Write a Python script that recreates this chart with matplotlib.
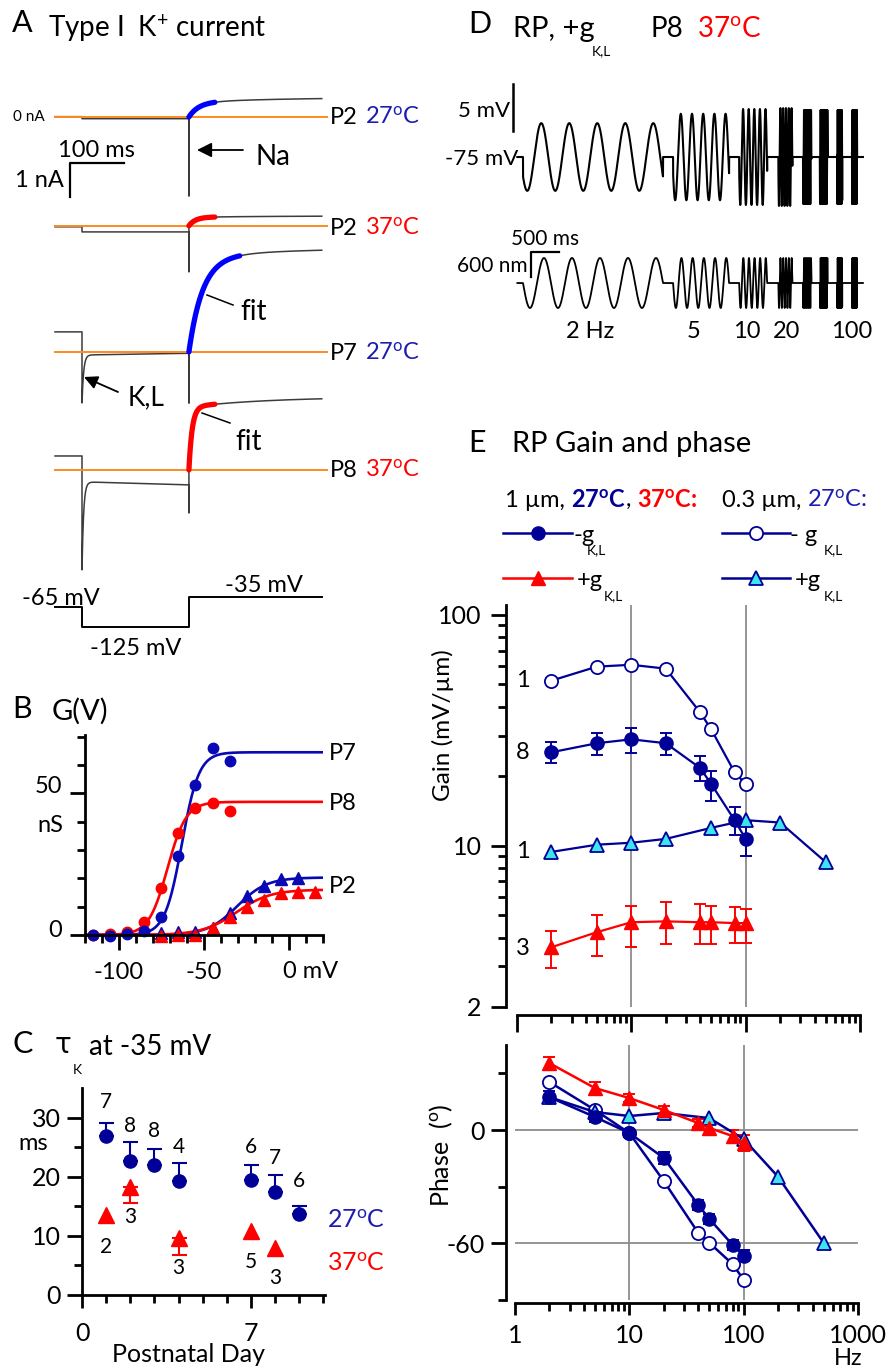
import numpy as np
import matplotlib.pyplot as plt
from matplotlib.ticker import FixedLocator, NullFormatter, FixedFormatter

plt.rcParams['font.family'] = ['Lato', 'DejaVu Sans']
plt.rcParams['mathtext.fontset'] = 'custom'
plt.rcParams['mathtext.rm'] = 'Lato'
plt.rcParams['mathtext.it'] = 'Lato:italic'
plt.rcParams['mathtext.bf'] = 'Lato:bold'

W, H = 888, 1371
NAVY = '#000096'
BLUE = '#0000ff'
BLUE_TXT = '#1c1cb0'
RED = '#ff0000'
CYAN = '#3ee3f0'
ORANGE = '#ff8a1f'
GRAY = '#3c3c3c'
GRID = '#8c8c8c'
DEG = r'$^{\mathrm{o}}$'
MU = '\u00b5'

# ---------------- A: Type I K+ currents (nA) ----------------
t_step_on, t_step_off, t_end = 50.0, 248.0, 494.0     # ms
v_cmd = [-65, -125, -35]                               # mV
a_ages = ['P2', 'P2', 'P7', 'P8']
a_temps = ['27', '37', '27', '37']
a_offset = [0.0, -3.2, -6.91, -10.38]                  # trace stacking (nA)
i_hold = [0.01, -0.03, 0.59, 0.41]
i_kl_peak = [-0.05, -0.18, -1.50, -2.94]
i_kl_start = [-0.05, -0.18, -0.09, -0.35]
i_kl_end = [-0.05, -0.18, -0.04, -0.44]
tau_kl = 3.0
i_na_peak = [-2.32, -1.35, -1.50, -1.26]
i_k_fast = [0.42, 0.25, 2.75, 1.85]
tau_k_fast = [18.0, 12.0, 25.0, 6.0]
i_k_slow = [0.15, 0.04, 0.30, 0.30]
tau_k_slow = 150.0
fit_end = [48.0, 48.0, 94.0, 48.0]

# ---------------- B: G(V) ----------------
v_b = [-115, -105, -95, -85, -75, -65, -55, -45, -35]
g_p7 = [0.0, -0.3, 0.5, 1.4, 6.5, 27.9, 52.9, 66.1, 61.5]
g_p8 = [0.0, 0.3, 1.0, 4.7, 16.5, 35.9, 45.0, 46.5, 43.8]
v_p2_27 = [-75, -65, -55, -45, -35, -25, -15, -5, 5]
g_p2_27 = [0.6, 1.0, 1.1, 2.5, 7.6, 13.9, 17.4, 19.8, 20.0]
v_p2_37 = [-75, -65, -55, -45, -35, -25, -15, -5, 5, 15]
g_p2_37 = [-0.2, 0.0, 0.1, 2.4, 6.2, 10.0, 12.4, 14.7, 15.3, 15.3]
# Boltzmann fits: Gmax (nS), V1/2 (mV), slope (mV)
fit_p7 = (64.5, -63.0, 5.0)
fit_p8 = (47.0, -71.5, 5.5)
fit_p2_27 = (20.3, -30.5, 8.7)
fit_p2_37 = (16.0, -31.0, 10.0)

# ---------------- C: tau_K at -35 mV ----------------
days_27 = [1, 2, 3, 4, 7, 8, 9]
tau_27 = [26.8, 22.7, 22.0, 19.3, 19.5, 17.5, 13.7]
tau_27_err = [2.3, 3.2, 2.7, 3.1, 2.5, 2.8, 1.4]
n_27 = ['7', '8', '8', '4', '6', '7', '6']
n_27_y = [32.7, 28.5, 27.8, 25.1, 25.1, 23.1, 19.2]
days_37 = [1, 2, 4, 7, 8]
tau_37 = [13.5, 18.3, 9.7, 10.9, 8.0]
tau_37_err = [0.0, 2.7, 2.9, 0.0, 0.0]
n_37 = ['2', '3', '3', '5', '3']
n_37_y = [8.1, 13.2, 4.6, 5.6, 2.9]

# ---------------- D: receptor potential to sinusoidal bundle motion ----------------
d_freqs = [2, 5, 10, 20, 40, 50, 80, 100]                  # Hz
d_start = [0.0, 2.68, 3.86, 4.56, 5.0, 5.30, 5.61, 5.875]  # s
d_dur = [2.5, 1.0, 0.5, 0.25, 0.15, 0.14, 0.09, 0.09]      # s
d_stim_amp = 600.0                                         # nm
d_resp_amp = [3.6, 4.6, 5.1, 5.2, 5.0, 5.0, 5.0, 5.0]      # mV
d_resp_phase = [35, 22, 17, 11, 4, 1, -3, -7]              # deg
v_rest = -75.0

# ---------------- E: gain and phase ----------------
f_1um = [2, 5, 10, 20, 40, 50, 80, 100]
gain_m_1um = [25.4, 27.8, 28.9, 27.8, 21.7, 18.5, 12.9, 10.7]
gain_m_1um_lo = [22.8, 24.7, 25.2, 24.7, 19.0, 15.6, 11.1, 9.0]
gain_m_1um_hi = [28.0, 30.7, 32.2, 30.7, 24.5, 21.0, 14.7, 12.7]
gain_p_1um = [3.63, 4.22, 4.66, 4.70, 4.66, 4.66, 4.62, 4.62]
gain_p_1um_lo = [2.95, 3.33, 3.63, 3.75, 3.75, 3.75, 3.80, 3.80]
gain_p_1um_hi = [4.26, 5.0, 5.5, 5.7, 5.6, 5.5, 5.4, 5.3]
f_03um_m = [2, 5, 10, 20, 40, 50, 80, 100]
gain_m_03um = [51.9, 59.7, 60.8, 58.5, 37.8, 31.9, 20.8, 18.5]
f_03um_p = [2, 5, 10, 20, 50, 100, 200, 500]
gain_p_03um = [9.4, 10.1, 10.3, 10.7, 11.95, 12.9, 12.6, 8.5]
gain_n = ['1', '8', '1', '3']
gain_n_y = [52, 25.4, 9.4, 3.6]

phase_m_1um = [17.4, 6.9, -1.6, -14.8, -39.6, -47.0, -60.8, -66.6]
phase_m_1um_err = [3.0, 2.5, 2.0, 3.0, 2.5, 2.5, 2.5, 3.0]
phase_p_1um = [35.4, 22.2, 16.9, 10.6, 3.7, 1.1, -3.2, -6.9]
phase_p_1um_err = [3.5, 3.0, 2.0, 2.0, 2.0, 3.0, 3.0, 4.0]
phase_m_03um = [25.4, 10.6, -1.6, -27.0, -54.4, -59.7, -71.0, -79.3]
phase_p_03um = [17.4, 9.5, 7.4, 9.0, 6.3, -4.8, -24.8, -59.7]


fig = plt.figure(figsize=(W / 100, H / 100), dpi=100)


def box(x0, y0, x1, y1):
    # axes from a pixel box (y from top)
    ax = fig.add_axes([x0 / W, 1 - y1 / H, (x1 - x0) / W, (y1 - y0) / H])
    ax.patch.set_alpha(0)
    return ax


def spines(ax, lw=2.0, size=16):
    for side in ['top', 'right']:
        ax.spines[side].set_visible(False)
    for side in ['left', 'bottom']:
        ax.spines[side].set_linewidth(lw)
    ax.tick_params(which='both', direction='out', width=lw, labelsize=size)
    ax.tick_params(which='major', length=10.5)
    ax.tick_params(which='minor', length=5.5)


def k_current(k, s):
    return (i_k_fast[k] * (1 - np.exp(-s / tau_k_fast[k]))
            + i_k_slow[k] * (1 - np.exp(-s / tau_k_slow)))


def k_trace(k):
    s2 = np.linspace(0, t_step_off - t_step_on, 300)
    y2 = (i_kl_start[k] + (i_kl_end[k] - i_kl_start[k]) * s2 / s2[-1]
          + (i_kl_peak[k] - i_kl_start[k]) * np.exp(-s2 / tau_kl))
    s3 = np.linspace(0, t_end - t_step_off, 400)
    t = np.concatenate([[0, t_step_on], t_step_on + s2, [t_step_off], t_step_off + s3])
    y = np.concatenate([[i_hold[k], i_hold[k]], y2, [i_na_peak[k]], k_current(k, s3)])
    return t, y + a_offset[k]


def boltz(v, p):
    gmax, vh, k = p
    return gmax / (1 + np.exp((vh - v) / k))


# ================= Panel A =================
axA = box(0, 60, 440, 700)
axA.set_xlim(-101.85, 712.96)
axA.set_ylim(-17.147, 1.676)
axA.axis('off')
fit_cols = [BLUE, RED, BLUE, RED]
for k in range(4):
    t, y = k_trace(k)
    axA.plot(t, y, color=GRAY, lw=1.1, zorder=1)
    axA.plot([0, 504], [a_offset[k]] * 2, color=ORANGE, lw=1.4, zorder=2)
    s = np.linspace(0, fit_end[k], 100)
    axA.plot(t_step_off + s, k_current(k, s) + a_offset[k], color=fit_cols[k],
             lw=3.8, solid_capstyle='round', zorder=3)
# scale bars 100 ms / 1 nA
axA.plot([127.8, 27.8, 27.8], [-1.353, -1.353, -2.353], color='k', lw=1.6)

axV = box(0, 560, 440, 660)
axV.set_xlim(-101.85, 712.96)
axV.set_ylim(-224, 76)
axV.axis('off')
axV.step([0, t_step_on, t_step_off, t_end], [v_cmd[0], v_cmd[1], v_cmd[2], v_cmd[2]],
         where='post', color='k', lw=1.4)

# ================= Panel B =================
axB = box(85, 735, 323, 935)
spines(axB)
axB.set_xlim(-120, 20)
axB.set_ylim(0, 70.6)
vv = np.linspace(-120, 20, 300)
B_NAVY = '#0808b4'
axB.plot(vv, boltz(vv, fit_p7), color=B_NAVY, lw=1.9)
axB.plot(vv, boltz(vv, fit_p8), color=RED, lw=1.9)
axB.plot(vv, boltz(vv, fit_p2_27), color=B_NAVY, lw=1.9)
axB.plot(vv, boltz(vv, fit_p2_37), color=RED, lw=1.9)
axB.plot(v_b, g_p8, 'o', color=RED, ms=7.5, clip_on=False)
axB.plot(v_b, g_p7, 'o', color=B_NAVY, ms=7.5, clip_on=False)
axB.plot(v_p2_27, g_p2_27, '^', color=B_NAVY, ms=8, clip_on=False)
axB.plot(v_p2_37, g_p2_37, '^', color=RED, ms=8, clip_on=False)
axB.xaxis.set_major_locator(FixedLocator([-100, -50, 0]))
axB.xaxis.set_major_formatter(FixedFormatter(['-100', '-50', '']))
axB.xaxis.set_minor_locator(FixedLocator(np.arange(-120, 21, 10)))
axB.yaxis.set_major_locator(FixedLocator([0, 50]))
axB.yaxis.set_major_formatter(FixedFormatter(['', '']))
axB.yaxis.set_minor_locator(FixedLocator(np.arange(0, 71, 10)))
axB.tick_params(axis='x', pad=9, labelsize=17)

# ================= Panel C =================
axC = box(82, 1088, 325, 1295)
spines(axC, size=17)
axC.set_xlim(0, 10.07)
axC.set_ylim(0, 35)
e27 = [np.zeros(len(tau_27)), tau_27_err]
axC.errorbar(days_27, tau_27, yerr=e27, fmt='none', ecolor=NAVY, elinewidth=1.5,
             capsize=5.4, capthick=1.5)
axC.plot(days_27, tau_27, 'o', color=NAVY, ms=9.5)
sel = [i for i, e in enumerate(tau_37_err) if e > 0]
axC.errorbar([days_37[i] for i in sel], [tau_37[i] for i in sel],
             yerr=[[tau_37_err[i] for i in sel], [0] * len(sel)], fmt='none',
             ecolor=RED, elinewidth=1.5, capsize=5.4, capthick=1.5)
axC.plot(days_37, tau_37, '^', color=RED, ms=11)
for d, y, s in zip(days_27, n_27_y, n_27):
    axC.text(d, y, s, fontsize=15, ha='center', va='center')
for d, y, s in zip(days_37, n_37_y, n_37):
    axC.text(d, y, s, fontsize=15, ha='center', va='center')
axC.xaxis.set_major_locator(FixedLocator([0, 7]))
axC.xaxis.set_minor_locator(FixedLocator(np.arange(0, 11)))
axC.yaxis.set_major_locator(FixedLocator([0, 10, 20, 30]))
axC.yaxis.set_minor_locator(FixedLocator([5, 15, 25]))
axC.tick_params(axis='x', which='major', length=9.5, pad=10, labelsize=18)
axC.tick_params(axis='y', pad=5, labelsize=18)

# ================= Panel D =================
t_d = np.linspace(-0.1, 6.07, 40000)
stim = np.zeros_like(t_d)
resp = np.full_like(t_d, v_rest)
for f, t0, dur, a, ph in zip(d_freqs, d_start, d_dur, d_resp_amp, d_resp_phase):
    m = (t_d >= t0) & (t_d <= t0 + dur)
    w = 2 * np.pi * f * (t_d[m] - t0)
    stim[m] = -d_stim_amp * np.sin(w)
    resp[m] = v_rest - a * np.sin(w + np.deg2rad(ph))

axDt = box(470, 60, 888, 215)
axDt.set_xlim(-0.946, 6.518)
axDt.set_ylim(-81.17, -64.68)
axDt.axis('off')
axDt.plot(t_d, resp, color='k', lw=1.5)
axDt.plot([-0.18, -0.18], [-72.2, -67.2], color='k', lw=1.8)

axDs = box(470, 215, 888, 340)
axDs.set_xlim(-0.946, 6.518)
axDs.set_ylim(-1368, 1632)
axDs.axis('off')
axDs.plot(t_d, stim, color='k', lw=1.3)
axDs.plot([0.643, 0.143, 0.143], [744, 744, 144], color='k', lw=1.6)

# ================= Panel E gain =================
axG = box(517, 605, 860, 1007)
spines(axG, size=18)
axG.set_xscale('log')
axG.set_yscale('log')
axG.set_xlim(1, 1000)
axG.set_ylim(2, 110.4)
axG.spines['left'].set_position(('outward', 8))
axG.spines['bottom'].set_position(('outward', 6))
for fv in (10, 100):
    axG.axvline(fv, color=GRID, lw=1.3, zorder=0)
ekw = dict(capsize=4.3, elinewidth=1.4, capthick=1.4)
axG.plot(f_03um_m, gain_m_03um, '-o', color=NAVY, mfc='white', mec=NAVY, ms=9.5, lw=1.6,
         mew=1.3)
axG.errorbar(f_1um, gain_m_1um,
             yerr=[np.subtract(gain_m_1um, gain_m_1um_lo), np.subtract(gain_m_1um_hi, gain_m_1um)],
             fmt='-o', color=NAVY, ms=9.5, lw=1.6, **ekw)
axG.plot(f_03um_p, gain_p_03um, '-^', color=NAVY, mfc=CYAN, mec=NAVY, ms=10.5, lw=1.6,
         mew=1.3)
axG.errorbar(f_1um, gain_p_1um,
             yerr=[np.subtract(gain_p_1um, gain_p_1um_lo), np.subtract(gain_p_1um_hi, gain_p_1um)],
             fmt='-^', color=RED, ms=10.5, lw=1.6, **ekw)
axG.xaxis.set_major_locator(FixedLocator([1, 10, 100, 1000]))
axG.xaxis.set_major_formatter(NullFormatter())
axG.xaxis.set_minor_locator(FixedLocator([m * 10 ** e for e in range(3) for m in range(2, 10)]))
axG.xaxis.set_minor_formatter(NullFormatter())
axG.yaxis.set_major_locator(FixedLocator([2, 10, 100]))
axG.yaxis.set_major_formatter(FixedFormatter(['2', '10', '100']))
axG.yaxis.set_minor_locator(FixedLocator([3, 4, 5, 6, 7, 8, 9, 20, 30, 40, 50, 60, 70, 80, 90]))
axG.yaxis.set_minor_formatter(NullFormatter())
axG.tick_params(axis='x', which='major', length=12)
axG.tick_params(axis='y', pad=7)
for y, s in zip(gain_n_y, gain_n):
    axG.text(1.13, y, s, fontsize=17, ha='center', va='center')

# ================= Panel E phase =================
axP = box(515, 1045, 858, 1300)
spines(axP, size=18)
axP.set_xscale('log')
axP.set_xlim(1, 1000)
axP.set_ylim(-90, 45)
axP.spines['left'].set_position(('outward', 6.5))
axP.spines['bottom'].set_position(('outward', 2))
for fv in (10, 100):
    axP.axvline(fv, color=GRID, lw=1.3, zorder=0)
for pv in (0, -60):
    axP.axhline(pv, color=GRID, lw=1.3, zorder=0)
axP.errorbar(f_1um, phase_p_1um, yerr=phase_p_1um_err, fmt='-^', color=RED, ms=10.5,
             lw=1.8, **ekw)
axP.plot(f_03um_m, phase_m_03um, '-o', color=NAVY, mfc='white', mec=NAVY, ms=9.5, lw=1.8,
         mew=1.3)
axP.errorbar(f_1um, phase_m_1um, yerr=phase_m_1um_err, fmt='-o', color=NAVY, ms=9.5, lw=1.8,
             **ekw)
axP.plot(f_03um_p, phase_p_03um, '-^', color=NAVY, mfc=CYAN, mec=NAVY, ms=10.5, lw=1.8,
         mew=1.3)
axP.xaxis.set_major_locator(FixedLocator([1, 10, 100, 1000]))
axP.xaxis.set_major_formatter(FixedFormatter(['1', '10', '100', '1000']))
axP.xaxis.set_minor_locator(FixedLocator([m * 10 ** e for e in range(3) for m in range(2, 10)]))
axP.xaxis.set_minor_formatter(NullFormatter())
axP.yaxis.set_major_locator(FixedLocator([0, -60]))
axP.yaxis.set_major_formatter(FixedFormatter(['0', '-60']))
axP.yaxis.set_minor_locator(FixedLocator([30, -30, -90]))
axP.tick_params(axis='x', which='major', length=8.5, pad=7)
axP.tick_params(axis='y', pad=5)

# ================= overlay: labels and annotations (pixel coords) =================
ov = fig.add_axes([0, 0, 1, 1])
ov.set_xlim(0, W)
ov.set_ylim(H, 0)
ov.axis('off')
renderer = fig.canvas.get_renderer()


def put(x, y, s, size=16, **kw):
    kw.setdefault('va', 'baseline')
    return ov.text(x, y, s, fontsize=size, **kw)


def put_seq(x, y, parts, size):
    # consecutive text pieces with their own colours / weights
    for s, kw in parts:
        t = put(x, y, s, size, **kw)
        x += t.get_window_extent(renderer).width


# A
put(12, 32, 'A', 22)
put(48, 37, r'Type I  K$^{+}$ current', 20)
put(13, 117, '0 nA', 11, va='center')
put(58, 157, '100 ms', 17)
put(15, 187, '1 nA', 17)
a_base = [124, 235, 360, 477]
for k in range(4):
    put(330, a_base[k], a_ages[k], 17)
    put(365, a_base[k], a_temps[k] + DEG + 'C', 17,
        color=BLUE_TXT if a_temps[k] == '27' else RED)
put(255, 165, 'Na', 20)
ov.annotate('', xy=(197, 150), xytext=(243, 150),
            arrowprops=dict(arrowstyle='-|>', color='k', lw=1.3, mutation_scale=22,
                            shrinkA=0, shrinkB=0))
put(128, 405, 'K,L', 19)
ov.annotate('', xy=(84, 377), xytext=(118, 392),
            arrowprops=dict(arrowstyle='-|>', color='k', lw=1.3, mutation_scale=20,
                            shrinkA=0, shrinkB=0))
put(240, 320, 'fit', 20)
put(235, 450, 'fit', 20)
ov.plot([207, 233], [295, 305], color='k', lw=1.1)
ov.plot([202, 230], [413, 423], color='k', lw=1.1)
put(22, 605, '-65 mV', 17)
put(90, 655, '-125 mV', 17)
put(225, 592, '-35 mV', 17)

# B
put(12, 718, 'B', 22)
put(52, 720, 'G(V)', 21)
put(62, 793, '50', 17, ha='right')
put(62, 937, '0', 17, ha='right')
put(37, 832, 'nS', 17)
put(283, 978, '0 mV', 17)
put(329, 760, 'P7', 17)
put(329, 810, 'P8', 17)
put(329, 893, 'P2', 17)

# C
put(12, 1053, 'C', 22)
put(55, 1053, '\u03c4', 20, family=['DejaVu Sans'])
put(73, 1074, 'K', 10)
put(89, 1055, 'at -35 mV', 20)
put(18, 1150, 'ms', 17)
put(188, 1362, 'Postnatal Day', 18, ha='center')
put(327, 1228, '27' + DEG + 'C', 18, color=BLUE_TXT)
put(327, 1271, '37' + DEG + 'C', 18, color=RED)

# D
put(468, 33, 'D', 22)
put(513, 37, 'RP, +g', 21)
put(592, 55, 'K,L', 10)
put(650, 37, 'P8', 20)
put(697, 37, '37' + DEG + 'C', 20, color=RED)
put(510, 117, '5 mV', 16, ha='right')
put(518, 165, '-75 mV', 16, ha='right')
put(545, 245, '500 ms', 15, ha='center')
put(528, 272, '600 nm', 15, ha='right')
for xc, s in zip([590, 694, 747, 787, 852], ['2 Hz', '5', '10', '20', '100']):
    put(xc, 338, s, 17, ha='center')

# E
put(468, 452, 'E', 22)
put(512, 452, 'RP Gain and phase', 21)
put_seq(505, 507, [('1 ' + MU + 'm, ', {}),
                   (r'27$^{\mathbf{o}}$C', dict(color=NAVY, fontweight='bold')),
                   (', ', {}),
                   (r'37$^{\mathbf{o}}$C:', dict(color=RED, fontweight='bold'))], 17)
put_seq(722, 507, [('0.3 ' + MU + 'm, ', {}),
                   ('27' + DEG + 'C:', dict(color=BLUE_TXT))], 17)
# legend glyphs
ov.plot([503, 572], [533, 533], color=NAVY, lw=1.8)
ov.plot([538], [533], 'o', color=NAVY, ms=9.5)
ov.plot([503, 572], [578, 578], color=RED, lw=1.8)
ov.plot([538], [578], '^', color=RED, ms=10.5)
ov.plot([722, 790], [533, 533], color=NAVY, lw=1.8)
ov.plot([756], [533], 'o', color=NAVY, mfc='white', ms=9.5, mew=1.3)
ov.plot([722, 790], [578, 578], color=NAVY, lw=1.8)
ov.plot([756], [578], '^', color=NAVY, mfc=CYAN, ms=10.5, mew=1.3)
put(573, 542, '-g', 17)
put(587, 554, 'K,L', 10)
put(790, 542, '- g', 17)
put(824, 554, 'K,L', 10)
put(577, 587, '+g', 17)
put(604, 600, 'K,L', 10)
put(795, 587, '+g', 17)
put(824, 600, 'K,L', 10)
put(443, 725, 'Gain (mV/' + MU + 'm)', 17.5, rotation=90, ha='center', va='center')
put(441, 1155, r'Phase  ($^{\mathrm{o}}$)', 18, rotation=90, ha='center', va='center')
put(848, 1365, 'Hz', 17, ha='center')

fig.savefig('out.png', dpi=100)
